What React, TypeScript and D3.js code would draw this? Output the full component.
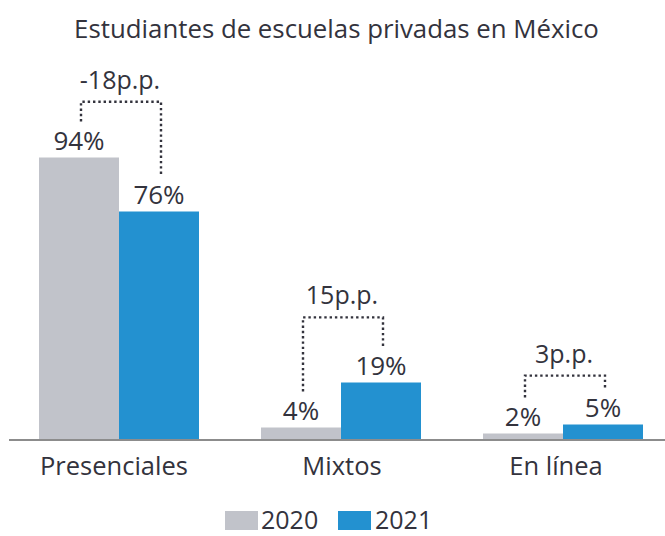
import React from "react";
import * as d3 from "d3";

const categories = ["Presenciales", "Mixtos", "En línea"];
const years = ["2020", "2021"];
const values2020 = [94, 4, 2];
const values2021 = [76, 19, 5];
const changeLabels = ["-18p.p.", "15p.p.", "3p.p."];
// bracket height expressed in the value units (%)
const bracketLevels = [112.6, 40.7, 21.3];
const title = "Estudiantes de escuelas privadas en México";

const W = 665;
const H = 536;
const COLORS = ["#c1c3ca", "#2391d0"];
const TEXT = "#33333d";
const FONT = "'Open Sans', 'Noto Sans', sans-serif";

export default function App() {
  const x0 = d3
    .scaleBand<string>()
    .domain(categories)
    .range([8, 674])
    .paddingInner(62 / 222)
    .paddingOuter(31 / 222);
  const x1 = d3.scaleBand<string>().domain(years).range([0, x0.bandwidth()]).padding(0);
  const y = d3.scaleLinear().domain([0, 100]).range([439.5, 139.5]);
  const series = [values2020, values2021];
  const catShift = [-5, 1, -7];

  const labelGap = 8;
  const capH = 19;

  return (
    <svg
      width={W}
      height={H}
      style={{ position: "absolute", left: 0, top: 0, background: "#fff" }}
      fontFamily={FONT}
    >
      <text x={336.5} y={37.5} textAnchor="middle" fontSize={25.8} fill={TEXT}>
        {title}
      </text>

      {categories.map((c, i) => (
        <g key={c}>
          {years.map((yr, j) => {
            const v = series[j][i];
            const bx = (x0(c) as number) + (x1(yr) as number);
            return (
              <g key={yr}>
                <rect x={bx} y={y(v)} width={x1.bandwidth()} height={y(0) - y(v)} fill={COLORS[j]} />
                <text
                  x={bx + x1.bandwidth() / 2}
                  y={y(v) - labelGap}
                  textAnchor="middle"
                  fontSize={26}
                  fill={TEXT}
                >
                  {v}%
                </text>
              </g>
            );
          })}
          {(() => {
            const lx = (x0(c) as number) + (x1("2020") as number) + x1.bandwidth() / 2 + 2;
            const rx = (x0(c) as number) + (x1("2021") as number) + x1.bandwidth() / 2 + 2;
            const hy = y(bracketLevels[i]);
            const lEnd = y(values2020[i]) - labelGap - capH - 9;
            const rEnd = y(values2021[i]) - labelGap - capH - 9;
            return (
              <g>
                <path
                  d={`M${lx},${lEnd}V${hy}H${rx}V${rEnd}`}
                  fill="none"
                  stroke={TEXT}
                  strokeWidth={2.4}
                  strokeDasharray="2.4 2.9"
                />
                <text x={(lx + rx) / 2 - 1} y={hy - 13} textAnchor="middle" fontSize={25} fill={TEXT}>
                  {changeLabels[i]}
                </text>
              </g>
            );
          })()}
          <text
            x={(x0(c) as number) + x0.bandwidth() / 2 + catShift[i]}
            y={475}
            textAnchor="middle"
            fontSize={25.5}
            fill={TEXT}
          >
            {c}
          </text>
        </g>
      ))}

      <line x1={9} x2={665} y1={440} y2={440} stroke="#8c8c8c" strokeWidth={2} />

      {(() => {
        const items = [
          { sx: 225, tx: 261 },
          { sx: 338, tx: 375 },
        ];
        return years.map((yr, j) => (
          <g key={yr}>
            <rect x={items[j].sx} y={511} width={33} height={19} fill={COLORS[j]} />
            <text x={items[j].tx} y={529} fontSize={25} fill={TEXT}>
              {yr}
            </text>
          </g>
        ));
      })()}
    </svg>
  );
}
